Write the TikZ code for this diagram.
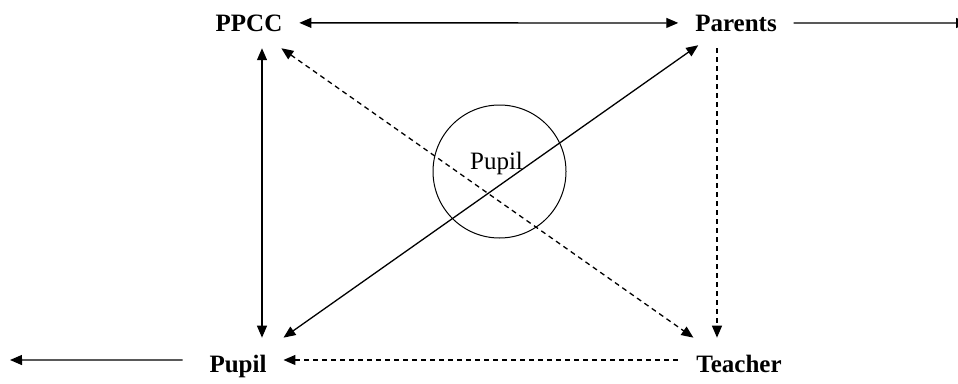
\documentclass[tikz,border=0pt]{standalone}
\usepackage{fontspec}
\setmainfont{Liberation Serif}
\usetikzlibrary{arrows.meta}

\begin{document}
\begin{tikzpicture}[x=1pt,y=-1pt,
  lbl/.style={font=\fontsize{25}{30}\selectfont\bfseries,inner sep=0pt,outer sep=17pt,anchor=base},
  a/.style={-{Triangle[length=12pt,width=10pt]},line width=1.3pt},
  ra/.style={{Triangle[length=12pt,width=10pt]}-,line width=1.3pt},
  aa/.style={{Triangle[length=12pt,width=10pt]}-{Triangle[length=12pt,width=10pt]},line width=1.3pt},
  d/.style={dash pattern=on 5pt off 4pt}]
\useasboundingbox (0,0) rectangle (958,383);
\node[lbl] (ppcc) at (249,31) {PPCC};
\node[lbl] (parents) at (736,31) {Parents};
\node[lbl] (pupil) at (238,372) {Pupil};
\node[lbl] (teacher) at (739,372) {Teacher};
\node[draw,circle,minimum size=133pt,line width=1pt] (ring) at (499.5,171.5) {};
\node[font=\fontsize{25}{30}\selectfont,inner sep=0pt,anchor=base] (inner) at (496.5,169) {Pupil};
\coordinate (outl) at (10,360);
\coordinate (outr) at (968,23);
% links round the pupil
\draw[aa] (ppcc.east) -- (parents.west);
\draw[a] (parents.east) -- (outr);
\draw[aa] ([xshift=13pt]ppcc.south) -- ([xshift=13pt]ppcc.south |- pupil.north);
\draw[aa] (pupil.north east) -- ([xshift=20pt,yshift=3pt]parents.south west);
\draw[aa,d] ([xshift=-18pt]ppcc.south east) -- ([xshift=14pt]teacher.north west);
\draw[a,d] ([xshift=-19pt]parents.south) -- ([xshift=-19pt]parents.south |- teacher.north);
\draw[ra,d] ([yshift=6pt]pupil.east) coordinate (pl) -- (teacher.west |- pl);
\draw[a] ([xshift=-10pt,yshift=6pt]pupil.west) -- (outl);
\end{tikzpicture}
\end{document}
